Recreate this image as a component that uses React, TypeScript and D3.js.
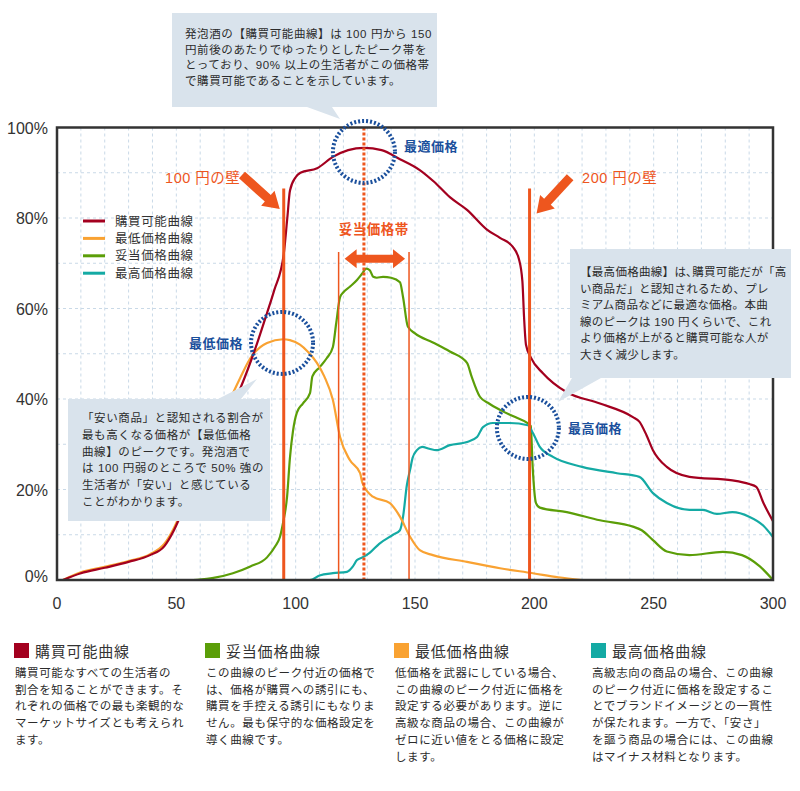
import React from 'react';
import * as d3 from 'd3';

// price (yen) / share (%)
const purchasable: [number, number][] = [
  [2.5, 0], [10, 1.5], [20, 2.7], [30, 4], [39, 5.5], [45, 7.5], [49, 11], [52, 14.5], [56, 19],
  [60, 23], [65, 29], [70, 35], [77, 42.6], [83, 51], [88, 59], [91, 64], [95, 72], [96.5, 80],
  [97.6, 86], [100, 89], [102, 90], [109, 91], [115.6, 93.5], [122, 95], [128.6, 95.5], [136, 95],
  [143.7, 93], [152, 90.6], [158, 88], [164.6, 84.6], [171.8, 81.8], [180, 77.5], [185.6, 75.6],
  [191, 73.6], [193.5, 71], [195, 66], [195.7, 58], [196.5, 52], [198.5, 49.2], [203.6, 45.7],
  [208, 43.5], [213.6, 41.5], [227.5, 39], [241.3, 36], [244, 35], [247, 32], [249.7, 28.7],
  [255.5, 25], [265, 22.8], [283, 22], [290, 21.2], [293, 20.6], [296, 17], [300, 13],
];
const lowest: [number, number][] = [
  [2.5, 0], [10, 1.7], [20, 2.9], [30, 4.2], [39, 5.7], [45, 8], [49, 11.5], [52, 15], [56, 20],
  [60, 25], [65, 31], [70, 37], [76.7, 44.6], [81, 49], [88, 52.4], [94.7, 53.2], [97.6, 53],
  [101.8, 52], [105, 50.5], [108.9, 48], [112, 45], [115.6, 39.8], [118.6, 31.6], [122.7, 26.5],
  [127, 23.6], [128, 21.4], [132.4, 18.4], [139.5, 17], [143.7, 14], [148, 9.5], [152, 6.6],
  [157.5, 5.5], [171.8, 4], [185.6, 2.6], [199.4, 1.5], [210, 0.6], [220, 0],
];
const fair: [number, number][] = [
  [0, 0], [57, 0], [65, 0.4], [73.7, 1.5], [81, 3], [88, 5], [91.5, 7.5], [93.4, 9.5], [94.7, 12.6],
  [96.4, 18.4], [97.6, 27], [98.9, 33], [100.5, 37], [103, 39], [106, 41.3], [107, 45], [110, 47],
  [113, 49], [115.6, 51.5], [117, 56.8], [118.6, 62.5], [120, 63.6], [122.7, 64.8], [125.7, 66.3],
  [128, 67.8], [129.5, 68.8], [131, 68.5], [132.5, 67], [134, 66.8], [136.6, 67], [140, 66.8],
  [143.7, 65.8], [145, 62.5], [147, 56], [150, 54.5], [157.5, 52.5], [164.6, 50.5], [171.8, 48],
  [173.7, 45], [177.2, 40.5], [181, 39], [185.6, 37.6], [192, 36], [197, 34.7], [198.5, 34],
  [199.3, 25], [200.7, 17], [202.3, 16], [213.6, 15], [227.5, 13.2], [241.3, 11.8], [245, 11],
  [249.7, 8.8], [255.5, 6.3], [265, 5.5], [279, 6.2], [287, 5.5], [294.5, 3], [300, 0],
];
const highest: [number, number][] = [
  [0, 0], [106, 0], [110, 1], [115.6, 1.5], [121.5, 1.8], [124, 3], [125.7, 4.4], [128, 5], [131, 6],
  [135, 8], [140.8, 10], [143.7, 11], [145, 14], [146.6, 21], [148, 24.5], [149, 27], [150.8, 28.7],
  [153, 29.4], [156, 29], [159, 28.7], [164.6, 29.8], [171.8, 30.5], [176, 31.6], [178.5, 33.8],
  [182.6, 34.7], [189.8, 34.7], [197.3, 34.2], [199.4, 32.5], [202.3, 29.4], [207.8, 27.2], [220, 25],
  [234.6, 23.6], [244, 22.8], [249.7, 19.2], [255.5, 17], [265, 15.5], [270.6, 15.5], [276.5, 14.6],
  [283, 15], [290, 14], [296, 12], [300, 9.5],
];

const seriesNames = ['購買可能曲線', '最低価格曲線', '妥当価格曲線', '最高価格曲線'];
const seriesColors = ['#a3001f', '#f9a232', '#5b9e08', '#14aaa4'];
const xTicks = [0, 50, 100, 150, 200, 250, 300];
const yTicks = [0, 20, 40, 60, 80, 100];

const walls = [95, 198];
const wallLabels = ['100 円の壁', '200 円の壁'];
const optimum = 128.6;
const fairBand = [118, 147.5];
// circled points: [price, share, label]
const marks: [number, number, string][] = [
  [128.6, 94.6, '最適価格'],
  [94.3, 52.4, '最低価格'],
  [197.3, 33.6, '最高価格'],
];

const topNote = [
  '発泡酒の【購買可能曲線】は 100 円から 150',
  '円前後のあたりでゆったりとしたピーク帯を',
  'とっており、90% 以上の生活者がこの価格帯',
  'で購買可能であることを示しています。',
];
const leftNote = [
  '「安い商品」と認知される割合が',
  '最も高くなる価格が【最低価格',
  '曲線】のピークです。発泡酒で',
  'は 100 円弱のところで 50% 強の',
  '生活者が「安い」と感じている',
  'ことがわかります。',
];
const rightNote = [
  '【最高価格曲線】は､購買可能だが「高',
  'い商品だ」と認知されるため、プレ',
  'ミアム商品などに最適な価格。本曲',
  '線のピークは 190 円くらいで、これ',
  'より価格が上がると購買可能な人が',
  '大きく減少します。',
];

const descTitles = ['購買可能曲線', '妥当価格曲線', '最低価格曲線', '最高価格曲線'];
const descColors = ['#a3001f', '#5b9e08', '#f9a232', '#14aaa4'];
const descTexts = [
  ['購買可能なすべての生活者の', '割合を知ることができます。そ', 'れぞれの価格での最も楽観的な', 'マーケットサイズとも考えられ', 'ます。'],
  ['この曲線のピーク付近の価格で', 'は、価格が購買への誘引にも、', '購買を手控える誘引にもなりま', 'せん。最も保守的な価格設定を', '導く曲線です。'],
  ['低価格を武器にしている場合、', 'この曲線のピーク付近に価格を', '設定する必要があります。逆に', '高級な商品の場合、この曲線が', 'ゼロに近い値をとる価格に設定', 'します。'],
  ['高級志向の商品の場合、この曲線', 'のピーク付近に価格を設定するこ', 'とでブランドイメージとの一貫性', 'が保たれます。一方で、「安さ」', 'を謳う商品の場合には、この曲線', 'はマイナス材料となります。'],
];

const FONT = "'Liberation Sans', 'Noto Sans CJK JP', sans-serif";
const ORANGE = '#ee561e';
const BLUE = '#1a4f9c';
const BOX = '#d9e3ec';

// block arrow from (x1,y1) to tip (x2,y2)
function blockArrow(x1: number, y1: number, x2: number, y2: number, shaft: number, headW: number, headL: number) {
  const a = Math.atan2(y2 - y1, x2 - x1);
  const len = Math.hypot(x2 - x1, y2 - y1);
  const pts = [
    [0, -shaft / 2], [len - headL, -shaft / 2], [len - headL, -headW / 2], [len, 0],
    [len - headL, headW / 2], [len - headL, shaft / 2], [0, shaft / 2],
  ];
  return pts
    .map(([u, v]) => [x1 + u * Math.cos(a) - v * Math.sin(a), y1 + u * Math.sin(a) + v * Math.cos(a)])
    .map((p) => p.join(','))
    .join(' ');
}

function doubleArrow(xl: number, xr: number, y: number, shaft: number, headW: number, headL: number) {
  const pts = [
    [xl, y], [xl + headL, y - headW / 2], [xl + headL, y - shaft / 2], [xr - headL, y - shaft / 2],
    [xr - headL, y - headW / 2], [xr, y], [xr - headL, y + headW / 2], [xr - headL, y + shaft / 2],
    [xl + headL, y + shaft / 2], [xl + headL, y + headW / 2],
  ];
  return pts.map((p) => p.join(',')).join(' ');
}

export default function App() {
  const width = 800;
  const height = 791;
  const margin = { left: 57, right: 27, top: 127.5, bottom: 211 };

  const x = d3.scaleLinear().domain([0, 300]).range([margin.left, width - margin.right]);
  const y = d3.scaleLinear().domain([0, 100]).range([height - margin.bottom, margin.top]);

  const line = d3
    .line<[number, number]>()
    .x((d) => x(d[0]))
    .y((d) => y(d[1]))
    .curve(d3.curveMonotoneX);

  const allSeries = [purchasable, lowest, fair, highest];
  const drawOrder = [2, 3, 1, 0];

  const gridX = d3.range(10, 300, 10);
  const gridY = d3.range(10, 100, 10);

  const noteText = (lines: string[], tx: number, ty: number, lh: number, ls = 0.6) =>
    lines.map((t, i) => (
      <text key={i} x={tx} y={ty + i * lh} fontSize={11.5} letterSpacing={ls} fill="#2b2b2b">
        {t}
      </text>
    ));

  return (
    <div style={{ position: 'absolute', left: 0, top: 0 }}>
      <svg width={width} height={height} fontFamily={FONT} style={{ display: 'block' }}>
        <rect width={width} height={height} fill="#fff" />

        {/* grid */}
        <g stroke="#c9d9e7" strokeWidth={1} strokeDasharray="3,3">
          {gridX.map((v) => (
            <line key={'gx' + v} x1={x(v)} x2={x(v)} y1={y(100)} y2={y(0)} />
          ))}
          {gridY.map((v) => (
            <line key={'gy' + v} x1={x(0)} x2={x(300)} y1={y(v)} y2={y(v)} />
          ))}
        </g>

        {/* curves */}
        {drawOrder.map((i) => (
          <path key={i} d={line(allSeries[i]) || ''} fill="none" stroke={seriesColors[i]} strokeWidth={2.2} />
        ))}

        {/* walls */}
        {walls.map((w) => (
          <line key={w} x1={x(w)} x2={x(w)} y1={y(86.5)} y2={y(0)} stroke={ORANGE} strokeWidth={3} />
        ))}
        {fairBand.map((b) => (
          <line key={b} x1={x(b)} x2={x(b)} y1={y(72.5)} y2={y(0)} stroke={ORANGE} strokeWidth={1.5} />
        ))}
        <line
          x1={x(optimum)} x2={x(optimum)} y1={y(100)} y2={y(0)}
          stroke={ORANGE} strokeWidth={3} strokeDasharray="3,2"
        />
        <polygon points={doubleArrow(x(fairBand[0]) + 6, x(fairBand[1]) - 4, y(71), 8, 19, 12)} fill={ORANGE} />
        <text x={(x(fairBand[0]) + x(fairBand[1])) / 2} y={y(77.5) + 5} textAnchor="middle" fontSize={13.5}
          fontWeight="bold" fill={ORANGE} letterSpacing={0.5}>
          妥当価格帯
        </text>

        <polygon points={blockArrow(x(77.5), y(89.5), x(walls[0]) - 4, y(82), 9, 20, 16)} fill={ORANGE} />
        <polygon points={blockArrow(x(215), y(89), x(walls[1]) + 7, y(81), 9, 20, 16)} fill={ORANGE} />
        <text x={x(45.3)} y={183} fontSize={14.5} fill={ORANGE} letterSpacing={0.5}>
          {wallLabels[0]}
        </text>
        <text x={x(220)} y={183} fontSize={14.5} fill={ORANGE} letterSpacing={0.5}>
          {wallLabels[1]}
        </text>

        {/* frame */}
        <rect x={x(0)} y={y(100)} width={x(300) - x(0)} height={y(0) - y(100)} fill="none" stroke="#333" strokeWidth={2.5} />

        {/* circled points */}
        {marks.map(([px, py, label], i) => (
          <g key={label}>
            <circle cx={x(px)} cy={y(py)} r={31} fill="none" stroke={BLUE} strokeWidth={4} strokeDasharray="2,2" />
            <text
              x={i === 1 ? x(px) - 39 : x(px) + 40}
              y={y(py) + (i === 0 ? -1 : 5)}
              textAnchor={i === 1 ? 'end' : 'start'}
              fontSize={13}
              fontWeight="bold"
              fill={BLUE}
              letterSpacing={0.5}
            >
              {label}
            </text>
          </g>
        ))}

        {/* legend */}
        {seriesNames.map((n, i) => (
          <g key={n} transform={`translate(83, ${221 + i * 17.4})`}>
            <line x1={0} x2={22} stroke={seriesColors[i]} strokeWidth={3} />
            <text x={32} y={4.5} fontSize={12.5} fill="#333" letterSpacing={0.6}>
              {n}
            </text>
          </g>
        ))}

        {/* axes labels */}
        {yTicks.map((t) => (
          <text key={t} x={48} y={y(t) + (t === 0 ? 2 : 6)} textAnchor="end" fontSize={16} fill="#333">
            {t}%
          </text>
        ))}
        {xTicks.map((t) => (
          <text key={t} x={x(t)} y={609} textAnchor="middle" fontSize={16} fill="#333">
            {t}
          </text>
        ))}

        {/* callouts */}
        <polygon points="172,13 437,13 437,107 332,107 340,119 307,107 172,107" fill={BOX} />
        {noteText(topNote, 185, 38, 15.6)}

        <polygon points="68,399 218,399 257,379 241,399 270,399 270,521 68,521" fill={BOX} />
        {noteText(leftNote, 82, 422, 16.8)}

        <polygon points="570,249 791,249 791,378 601,378 558,402 572,378 570,378" fill={BOX} />
        {noteText(rightNote, 580, 276, 16.6, 0.3)}

        {/* descriptions */}
        {descTitles.map((t, i) => {
          const cx = [14, 205, 394, 591][i];
          return (
            <g key={t}>
              <rect x={cx} y={643} width={15} height={15} fill={descColors[i]} />
              <text x={cx + 21} y={657} fontSize={15} fill="#333" letterSpacing={0.8}>
                {t}
              </text>
              {descTexts[i].map((l, j) => (
                <text key={j} x={cx + 1} y={677 + j * 16.7} fontSize={11.5} fill="#2b2b2b" letterSpacing={0.6}>
                  {l}
                </text>
              ))}
            </g>
          );
        })}
      </svg>
    </div>
  );
}
